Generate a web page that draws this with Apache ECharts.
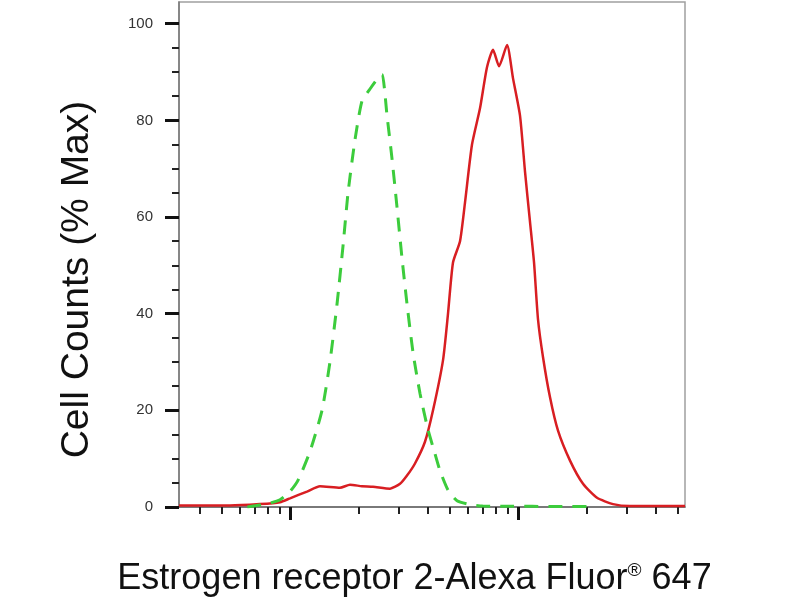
<!DOCTYPE html>
<html>
<head>
<meta charset="utf-8">
<script src="https://cdn.jsdelivr.net/npm/echarts@6/dist/echarts.min.js"></script>
<style>html,body{margin:0;padding:0;background:#fff}#c{width:800px;height:600px}</style>
</head>
<body>
<div id="c"></div>
<script>
// Fluorescence intensity (log scale) and % max counts
const X_MIN = 326;
const X_MAX = 54000;
const Y_MAX = 104.5;
const xMajorTicks = [1000, 10000];
const xMinorTicks = [400, 500, 600, 700, 800, 900, 2000, 3000, 4000, 5000, 6000, 7000, 8000, 9000, 20000, 30000, 40000, 50000];
const yLabels = [0, 20, 40, 60, 80, 100];
const yMinorTicks = [5, 10, 15, 25, 30, 35, 45, 50, 55, 65, 70, 75, 85, 90, 95];

const sampleX = [326, 545, 738, 904, 1000, 1187, 1354, 1657, 1833, 2069, 2312, 2746, 3038, 3260, 3533, 3909, 4239, 4690, 4932, 5187, 5568, 5855, 6284, 6813, 7311, 7771, 8255, 8950, 9509, 10204, 10733, 11288, 11756, 12240, 12874, 13816, 14978, 16909, 19281, 22209, 26109, 30980, 54000];
const sampleY = [0.3, 0.3, 0.6, 1.0, 1.8, 3.2, 4.3, 4.0, 4.6, 4.3, 4.2, 3.8, 4.8, 6.5, 9, 13.5, 20, 30.4, 40, 50.6, 55, 63, 75, 82.5, 91, 94.6, 91.2, 95.6, 88.7, 81, 69.4, 59, 50.6, 38.8, 31, 22.7, 15.8, 9.6, 4.8, 1.9, 0.6, 0.2, 0.2];

const isoX = [650, 738, 817, 904, 1000, 1084, 1224, 1382, 1497, 1608, 1708, 1797, 1928, 2069, 2243, 2407, 2532, 2664, 2803, 2947, 3099, 3260, 3463, 3717, 4030, 4325, 4549, 4932, 5402, 6159, 7000, 20000];
const isoY = [0, 0.4, 0.8, 1.5, 3.2, 5.5, 11.5, 20, 30, 42, 54, 65, 76, 84, 86.5, 88.5, 89.5, 81, 72, 62, 51.5, 42, 32, 23.5, 16, 11, 7.5, 3.5, 1.3, 0.5, 0.2, 0.1];

const sampleData = sampleX.map((x, i) => [x, sampleY[i]]);
const isoData = isoX.map((x, i) => [x, isoY[i]]);

const FONT = 'Liberation Sans, Arial, sans-serif';
const chart = echarts.init(document.getElementById('c'));
chart.setOption({
  animation: false,
  backgroundColor: '#fff',
  grid: { left: 179, right: 115, top: 2, bottom: 93, show: true, borderColor: '#a0a0a0', borderWidth: 1.5, containLabel: false, outerBoundsMode: 'none' },
  xAxis: [
    {
      type: 'log', logBase: 10, min: X_MIN, max: X_MAX,
      axisLine: { show: true, lineStyle: { color: '#666', width: 1.5 } },
      axisTick: { show: true, customValues: xMajorTicks, length: 13, lineStyle: { color: '#111', width: 3 } },
      axisLabel: { show: false },
      splitLine: { show: false },
      minorTick: { show: false },
      name: 'Estrogen receptor 2-Alexa Fluor{sup|®} 647',
      nameLocation: 'middle',
      nameGap: 54,
      nameTextStyle: {
        fontFamily: FONT, fontSize: 36, color: '#111', padding: [0, 35, 0, 0],
        rich: { sup: { fontFamily: FONT, fontSize: 19, color: '#111', verticalAlign: 'top', padding: [0, 0, 14, 0] } }
      }
    },
    {
      type: 'log', logBase: 10, min: X_MIN, max: X_MAX, position: 'bottom',
      axisLine: { show: false },
      axisTick: { show: true, customValues: xMinorTicks, length: 7, lineStyle: { color: '#222', width: 2 } },
      axisLabel: { show: false },
      splitLine: { show: false }
    }
  ],
  yAxis: [
    {
      type: 'value', min: 0, max: Y_MAX,
      axisLine: { show: true, lineStyle: { color: '#777', width: 1.5 } },
      axisTick: { show: true, customValues: yLabels, length: 14, lineStyle: { color: '#111', width: 3 } },
      axisLabel: { show: true, customValues: yLabels, margin: 26, fontFamily: FONT, fontSize: 15, color: '#333' },
      splitLine: { show: false },
      name: 'Cell Counts (% Max)',
      nameLocation: 'middle',
      nameRotate: 90,
      nameGap: 82,
      nameTextStyle: { fontFamily: FONT, fontSize: 39, color: '#111', padding: [0, 50, 0, 0] }
    },
    {
      type: 'value', min: 0, max: Y_MAX, position: 'left',
      axisLine: { show: false },
      axisTick: { show: true, customValues: yMinorTicks, length: 7, lineStyle: { color: '#222', width: 2 } },
      axisLabel: { show: false },
      splitLine: { show: false }
    }
  ],
  series: [
    {
      name: 'Estrogen receptor 2', type: 'line', xAxisIndex: 0, yAxisIndex: 0,
      data: sampleData, showSymbol: false, smooth: 0.2,
      lineStyle: { color: '#d81e22', width: 2.5 }
    },
    {
      name: 'Isotype control', type: 'line', xAxisIndex: 0, yAxisIndex: 0,
      data: isoData, showSymbol: false, smooth: 0.2,
      lineStyle: { color: '#3ccc3c', width: 3, type: [14, 10] }
    }
  ]
});
</script>
</body>
</html>
